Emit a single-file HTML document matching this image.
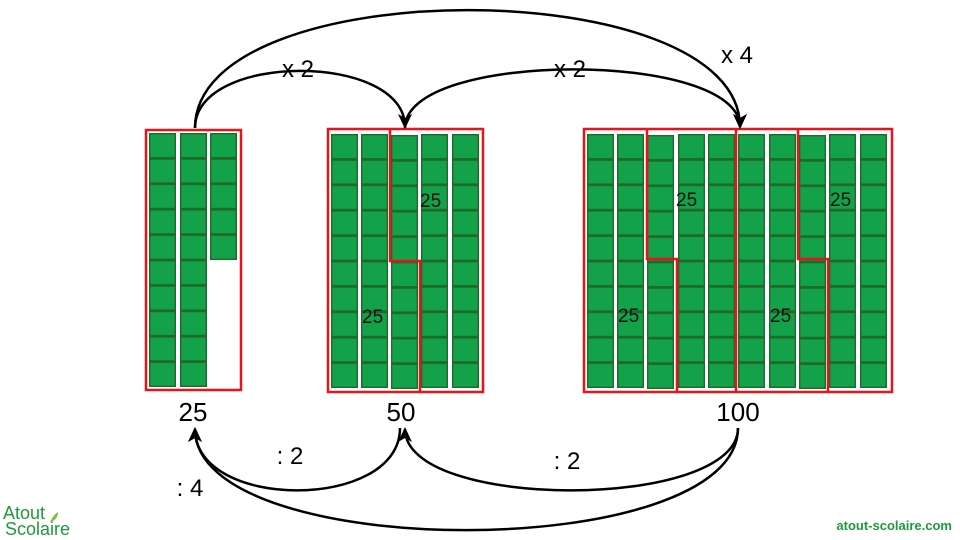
<!DOCTYPE html>
<html><head><meta charset="utf-8"><style>
body{margin:0;background:#fff}
svg{display:block}
text{font-family:"Liberation Sans",sans-serif}
</style></head><body>
<svg width="960" height="540" viewBox="0 0 960 540" xmlns="http://www.w3.org/2000/svg">
<defs>
<marker id="ah" markerWidth="16" markerHeight="14" refX="13" refY="7" orient="auto" markerUnits="userSpaceOnUse"><path d="M0,0 L15,7 L0,14 L4,7 Z" fill="#000"/></marker>
<pattern id="c" patternUnits="objectBoundingBox" x="0" y="0" width="1" height="0.1">
<rect x="0.7" y="0.7" width="25.6" height="24" fill="#13a24a" stroke="#1d6a2b" stroke-width="1.4"/>
</pattern>
<pattern id="c5" patternUnits="objectBoundingBox" x="0" y="0" width="1" height="0.2">
<rect x="0.7" y="0.7" width="25.6" height="24" fill="#13a24a" stroke="#1d6a2b" stroke-width="1.4"/>
</pattern>
</defs>
<g fill="url(#c)">
<rect x="149" y="133" width="27" height="254"/>
<rect x="180" y="133" width="27" height="254"/>
<rect x="210" y="133" width="27" height="127" fill="url(#c5)"/>
<rect x="331" y="134" width="27" height="254"/>
<rect x="361" y="134" width="27" height="254"/>
<rect x="391" y="135" width="27" height="254"/>
<rect x="421" y="134" width="27" height="254"/>
<rect x="452" y="134" width="27" height="254"/>
<rect x="587" y="134" width="27" height="254"/>
<rect x="617" y="134" width="27" height="254"/>
<rect x="647" y="135" width="27" height="254"/>
<rect x="678" y="134" width="27" height="254"/>
<rect x="708" y="134" width="27" height="254"/>
<rect x="738" y="134" width="27" height="254"/>
<rect x="769" y="134" width="27" height="254"/>
<rect x="799" y="135" width="27" height="254"/>
<rect x="829" y="134" width="27" height="254"/>
<rect x="860" y="134" width="27" height="254"/>
</g>
<g fill="none" stroke="#e8141b" stroke-width="2.5">
<rect x="146" y="130" width="95" height="260"/>
<rect x="328" y="129" width="155" height="263"/>
<rect x="584" y="129" width="308" height="263"/>
<path d="M390,130 V261 H420 V391"/>
<path d="M647,130 V259 H677 V392"/>
<path d="M736,130 V392"/>
<path d="M798,130 V259 H828 V392"/>
</g>
<g font-size="19" fill="#111">
<text x="420" y="207">25</text><text x="362" y="323">25</text>
<text x="676" y="206">25</text><text x="618" y="322">25</text>
<text x="830" y="206">25</text><text x="770" y="322">25</text>
</g>
<g font-size="26" fill="#000" text-anchor="middle">
<text x="193" y="421">25</text><text x="401" y="421">50</text><text x="738" y="421">100</text>
</g>
<g fill="none" stroke="#000" stroke-width="2.5" marker-end="url(#ah)">
<path d="M195,128 C195,52 405,52 405,127"/>
<path d="M405,128 C405,50 740,50 740,127"/>
<path d="M195,128 C195,-29 740,-29 740,127"/>
<path d="M400,428 C400,511 195,511 195,429"/>
<path d="M738,428 C738,511 405,511 405,429"/>
<path d="M738,428 C738,564 195,564 195,429"/>
</g>
<g font-size="24" fill="#000" text-anchor="middle">
<text x="298" y="77">x 2</text><text x="570" y="77">x 2</text><text x="737" y="63">x 4</text>
<text x="290" y="464">: 2</text><text x="567" y="469">: 2</text><text x="190" y="496">: 4</text>
</g>
<g fill="#1e9a3c" font-size="18">
<text x="3" y="519">Atout</text><text x="5" y="535">Scolaire</text>
</g>
<path d="M50,522 q4,-8 8,-10 q0,8 -8,10z" fill="#7cc242"/>
<text x="952" y="530" text-anchor="end" font-size="13" font-weight="bold" fill="#1e9a3c">atout-scolaire.com</text>
</svg>
</body></html>
